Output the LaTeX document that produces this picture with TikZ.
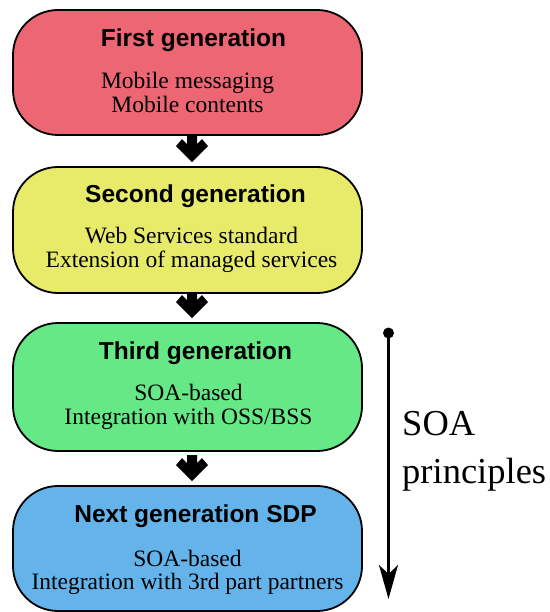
\documentclass[tikz,border=0pt]{standalone}
\usepackage{fontspec}
\setmainfont{Liberation Serif}
\newfontfamily\titlefont{Liberation Sans}
\usetikzlibrary{calc,arrows.meta}
\definecolor{cA}{RGB}{236,102,116}
\definecolor{cB}{RGB}{232,235,106}
\definecolor{cC}{RGB}{102,232,134}
\definecolor{cD}{RGB}{100,180,235}
\tikzset{
  genbox/.style={draw=black, line width=1.8pt, rounded corners=45pt, minimum width=349pt, minimum height=#1, inner sep=0pt},
  gentitle/.style={anchor=base, inner sep=0pt, font=\titlefont\bfseries\fontsize{24.5}{26}\selectfont},
  genbody/.style={anchor=base, inner sep=0pt, font=\fontsize{23.5}{25}\selectfont},
  soatext/.style={anchor=base west, inner sep=0pt, font=\fontsize{36.5}{40}\selectfont},
}
\begin{document}
\begin{tikzpicture}[x=1pt,y=-1pt]
\useasboundingbox (0,0) rectangle (549,612);
% boxes
\node[genbox=125pt, fill=cA] (b1) at (187.5,72.5) {};
\node[genbox=126pt, fill=cB] (b2) at (187.5,230) {};
\node[genbox=128pt, fill=cC] (b3) at (187.5,387) {};
\node[genbox=125pt, fill=cD] (b4) at (187.5,548.5) {};
% texts
\node[gentitle] (t1) at ($(b1.north)+(6,37)$) {First generation};
\node[genbody] (d1a) at ($(b1.north)+(0,79)$) {Mobile messaging};
\node[genbody] (d1b) at ($(b1.north)+(0,103)$) {Mobile contents};
\node[gentitle] (t2) at ($(b2.north)+(8,36)$) {Second generation};
\node[genbody] (d2a) at ($(b2.north)+(4,77)$) {Web Services standard};
\node[genbody] (d2b) at ($(b2.north)+(4,101)$) {Extension of managed services};
\node[gentitle] (t3) at ($(b3.north)+(8,37)$) {Third generation};
\node[genbody] (d3a) at ($(b3.north)+(1,78)$) {SOA-based};
\node[genbody] (d3b) at ($(b3.north)+(1,102)$) {Integration with OSS/BSS};
\node[gentitle] (t4) at ($(b4.north)+(8,37)$) {Next generation SDP};
\node[genbody] (d4a) at ($(b4.north)+(0,81)$) {SOA-based};
\node[genbody] (d4b) at ($(b4.north)+(0,104)$) {Integration with 3rd part partners};
% fat arrows between boxes
\foreach \nb in {b2,b3,b4}{
  \fill[black, shift={($(\nb.north)+(4.5,-4)$)}]
    (-5,-26) -- (5,-26) -- (5,-18) -- (10,-23) -- (16,-16) -- (0,0)
    -- (-16,-16) -- (-10,-23) -- (-5,-18) -- cycle;
}
% SOA principles arrow
\coordinate (s0) at (388.5,333);
\coordinate (s1) at (388.5,599);
\fill (s0) circle (5.5pt);
\draw[line width=2.2pt, -{Stealth[length=34pt,width=19pt,inset=9pt]}] (s0) -- (s1);
\node[soatext] (soa) at (402,435) {SOA};
\node[soatext] (pr) at (402,483) {principles};
\end{tikzpicture}
\end{document}
